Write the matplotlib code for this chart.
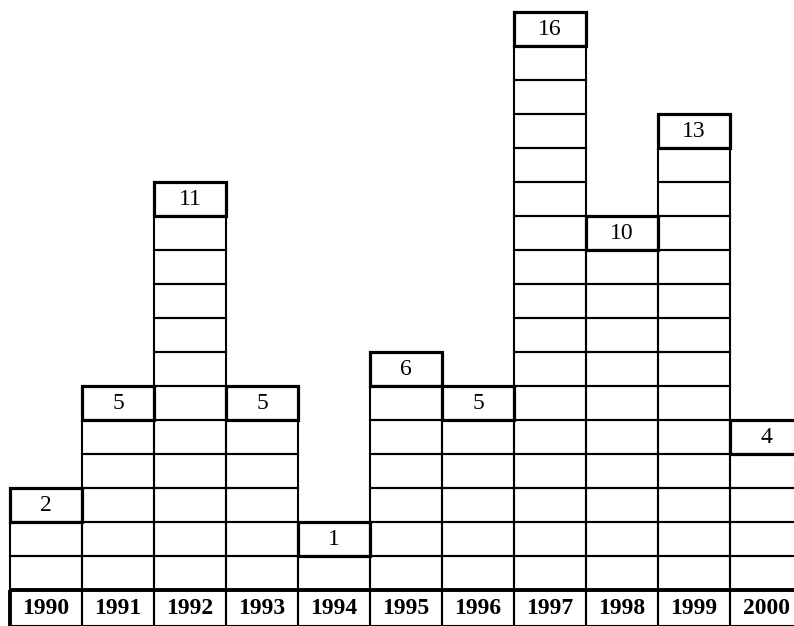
"""Stacked unit-box chart of yearly counts, 1990-2000."""
import matplotlib.pyplot as plt
from matplotlib.patches import Rectangle

years = ["1990", "1991", "1992", "1993", "1994", "1995",
         "1996", "1997", "1998", "1999", "2000"]
counts = [2, 5, 11, 5, 1, 6, 5, 16, 10, 13, 4]

SERIF = "Liberation Serif"
YEAR_ROW = 36 / 34  # height of the year row in box units

fig = plt.figure(figsize=(7.94, 6.26), dpi=100)
ax = fig.add_axes([0, 0, 1, 1])
ax.set_xlim(-10 / 72, (794 - 10) / 72)
ax.set_ylim(-YEAR_ROW, 590 / 34)
ax.axis("off")

for i, (yr, n) in enumerate(zip(years, counts)):
    # unit boxes
    for k in range(n):
        ax.add_patch(Rectangle((i, k), 1, 1, fill=False, ec="black", lw=1.5))
    # label box on top of the stack
    ax.add_patch(Rectangle((i, n), 1, 1, fill=False, ec="black", lw=2.3, zorder=3))
    ax.text(i + 0.5, n + 0.48, str(n), ha="center", va="center",
            fontsize=17, family=SERIF, zorder=4)
    # year cell
    ax.add_patch(Rectangle((i, -YEAR_ROW), 1, YEAR_ROW, fill=False, ec="black", lw=1.5))
    ax.text(i + 0.5, -YEAR_ROW / 2 - 0.02, yr, ha="center", va="center",
            fontsize=17, fontweight="bold", family=SERIF)

# heavy baseline and left edge of the year row
ax.plot([0, len(years)], [0, 0], color="black", lw=2.8, solid_capstyle="butt", zorder=5)
ax.plot([0, 0], [-YEAR_ROW, 0], color="black", lw=2.8, solid_capstyle="butt", zorder=5)

fig.savefig("out.png", dpi=100)
